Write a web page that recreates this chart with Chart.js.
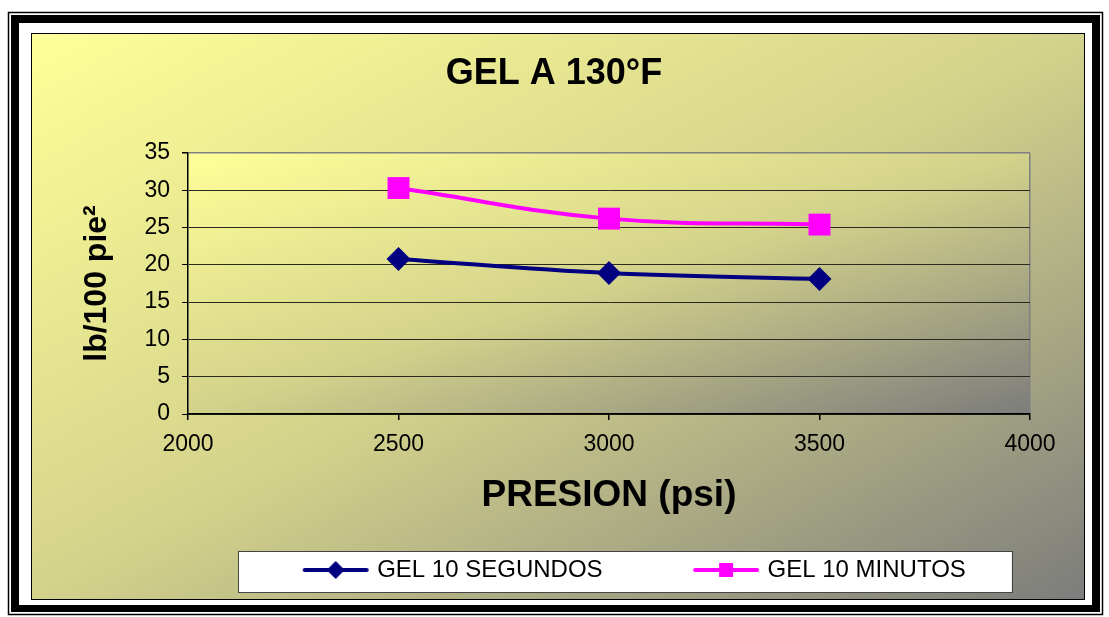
<!DOCTYPE html>
<html>
<head>
<meta charset="utf-8">
<title>GEL A 130°F</title>
<script src="https://cdn.jsdelivr.net/npm/chart.js@4"></script>
<style>
  html, body { margin: 0; padding: 0; background: #fff; }
  canvas { display: block; }
</style>
</head>
<body>
<canvas id="gelChart" width="1109" height="617"></canvas>
<script>
const pressures = [2500, 3000, 3500];
const gel10Segundos = [20.8, 18.9, 18.1];
const gel10Minutos = [30.3, 26.2, 25.4];
const seriesNames = ['GEL 10 SEGUNDOS', 'GEL 10 MINUTOS'];
const seriesColors = ['#000080', '#FF00FF'];

Chart.defaults.font.family = 'Arial, "Liberation Sans", sans-serif';
Chart.defaults.color = '#000';

// diagonal gradient, yellow top-left to gray bottom-right
const diagGradient = (ctx, x, y, w, h) => {
  const k = 2 * w * h / (w * w + h * h);
  const g = ctx.createLinearGradient(x, y, x + h * k, y + w * k);
  g.addColorStop(0, '#FFFF99');
  g.addColorStop(0.5, '#D3D28B');
  g.addColorStop(1, '#7C7C7C');
  return g;
};

// legend icon: line with marker, drawn at right part of the box
const makeIcon = (color, shape) => {
  const c = document.createElement('canvas');
  c.width = 122;
  c.height = 28;
  const g = c.getContext('2d');
  g.strokeStyle = color;
  g.lineWidth = 4;
  g.lineCap = 'round';
  g.beginPath();
  g.moveTo(57, 14);
  g.lineTo(119, 14);
  g.stroke();
  g.fillStyle = color;
  if (shape === 'diamond') {
    g.beginPath();
    g.moveTo(88, 5);
    g.lineTo(97, 14);
    g.lineTo(88, 23);
    g.lineTo(79, 14);
    g.closePath();
    g.fill();
  } else {
    g.fillRect(81, 7, 14, 14);
  }
  return c;
};
const legendIcons = [makeIcon(seriesColors[0], 'diamond'), makeIcon(seriesColors[1], 'square')];

const backgroundPlugin = {
  id: 'excelBackground',
  beforeDraw(chart) {
    const ctx = chart.ctx;
    const area = chart.chartArea;
    ctx.save();
    ctx.fillStyle = '#fff';
    ctx.fillRect(0, 0, chart.width, chart.height);

    // outer frame
    ctx.strokeStyle = '#000';
    ctx.lineWidth = 1.5;
    ctx.strokeRect(8.5, 12.5, 1094, 602);
    ctx.fillStyle = '#000';
    ctx.fillRect(11, 15, 1089, 597);
    ctx.fillStyle = '#fff';
    ctx.fillRect(19, 23, 1073, 582);

    // chart area
    ctx.fillStyle = diagGradient(ctx, 31, 33, 1054, 567);
    ctx.fillRect(31, 33, 1054, 567);
    ctx.lineWidth = 1;
    ctx.strokeStyle = '#000';
    ctx.strokeRect(31.5, 33.5, 1053, 566);

    // plot area
    ctx.fillStyle = diagGradient(ctx, area.left, area.top, area.width, area.height);
    ctx.fillRect(area.left, area.top, area.width, area.height);

    // legend box
    const lg = chart.legend;
    if (lg && lg.legendHitBoxes && lg.legendHitBoxes.length) {
      const hb = lg.legendHitBoxes;
      const last = hb[hb.length - 1];
      const x0 = hb[0].left - 14;
      const x1 = last.left + last.width + 46;
      const y0 = lg.top + 33;
      const y1 = lg.bottom;
      ctx.fillStyle = '#fff';
      ctx.fillRect(x0, y0, x1 - x0, y1 - y0);
      ctx.strokeStyle = '#444';
      ctx.strokeRect(Math.round(x0) + 0.5, Math.round(y0) + 0.5, Math.round(x1 - x0), Math.round(y1 - y0));
    }
    ctx.restore();
  }
};

const ctx = document.getElementById('gelChart').getContext('2d');

new Chart(ctx, {
  type: 'line',
  data: {
    datasets: [
      {
        label: seriesNames[0],
        data: pressures.map((p, i) => ({ x: p, y: gel10Segundos[i] })),
        borderColor: seriesColors[0],
        backgroundColor: seriesColors[0],
        borderWidth: 4,
        tension: 0.4,
        pointStyle: 'rectRot',
        pointRadius: 12,
        pointHoverRadius: 12,
        pointBorderWidth: 0
      },
      {
        label: seriesNames[1],
        data: pressures.map((p, i) => ({ x: p, y: gel10Minutos[i] })),
        borderColor: seriesColors[1],
        backgroundColor: seriesColors[1],
        borderWidth: 4,
        tension: 0.4,
        pointStyle: 'rect',
        pointRadius: 15.5,
        pointHoverRadius: 15.5,
        pointBorderWidth: 0
      }
    ]
  },
  options: {
    responsive: false,
    animation: false,
    layout: { padding: { left: 78, right: 79, top: 0, bottom: 25 } },
    plugins: {
      title: {
        display: true,
        text: 'GEL A 130°F',
        font: { size: 36, weight: 'bold' },
        color: '#000',
        padding: { top: 52.4, bottom: 57.4 }
      },
      legend: {
        position: 'bottom',
        fullSize: false,
        labels: {
          usePointStyle: true,
          pointStyleWidth: 113,
          padding: 40,
          color: '#000',
          font: { size: 24 },
          generateLabels: chart =>
            Chart.defaults.plugins.legend.labels.generateLabels(chart)
              .map((item, i) => ({ ...item, pointStyle: legendIcons[i] }))
        }
      },
      tooltip: { enabled: false }
    },
    scales: {
      x: {
        type: 'linear',
        min: 2000,
        max: 4000,
        afterFit: scale => { scale.height = 104; },
        ticks: {
          stepSize: 500,
          padding: 11,
          font: { size: 23 },
          color: '#000',
          callback: value => String(value)
        },
        grid: {
          drawOnChartArea: true,
          color: c => (c.tick && c.tick.value === 4000 ? '#808080' : 'rgba(0,0,0,0)'),
          tickColor: '#000',
          tickLength: 6,
          lineWidth: 1.5
        },
        border: { color: '#000', width: 1.5 },
        title: {
          display: true,
          text: 'PRESION (psi)',
          font: { size: 37, weight: 'bold' },
          color: '#000',
          padding: { top: 0, bottom: 0 }
        }
      },
      y: {
        min: 0,
        max: 35,
        afterFit: scale => { scale.width = 110; },
        ticks: { stepSize: 5, padding: 12, font: { size: 23 }, color: '#000' },
        grid: {
          color: c => (c.tick && c.tick.value === 35 ? '#808080' : '#2a2a1e'),
          tickColor: '#000',
          tickLength: 6,
          lineWidth: c => (c.tick && c.tick.value === 35 ? 1.5 : 1)
        },
        border: { color: '#000', width: 1.5 },
        title: {
          display: true,
          text: 'lb/100 pie²',
          font: { size: 32, weight: 'bold' },
          color: '#000',
          padding: { top: 0, bottom: 0 }
        }
      }
    }
  },
  plugins: [backgroundPlugin]
});
</script>
</body>
</html>
